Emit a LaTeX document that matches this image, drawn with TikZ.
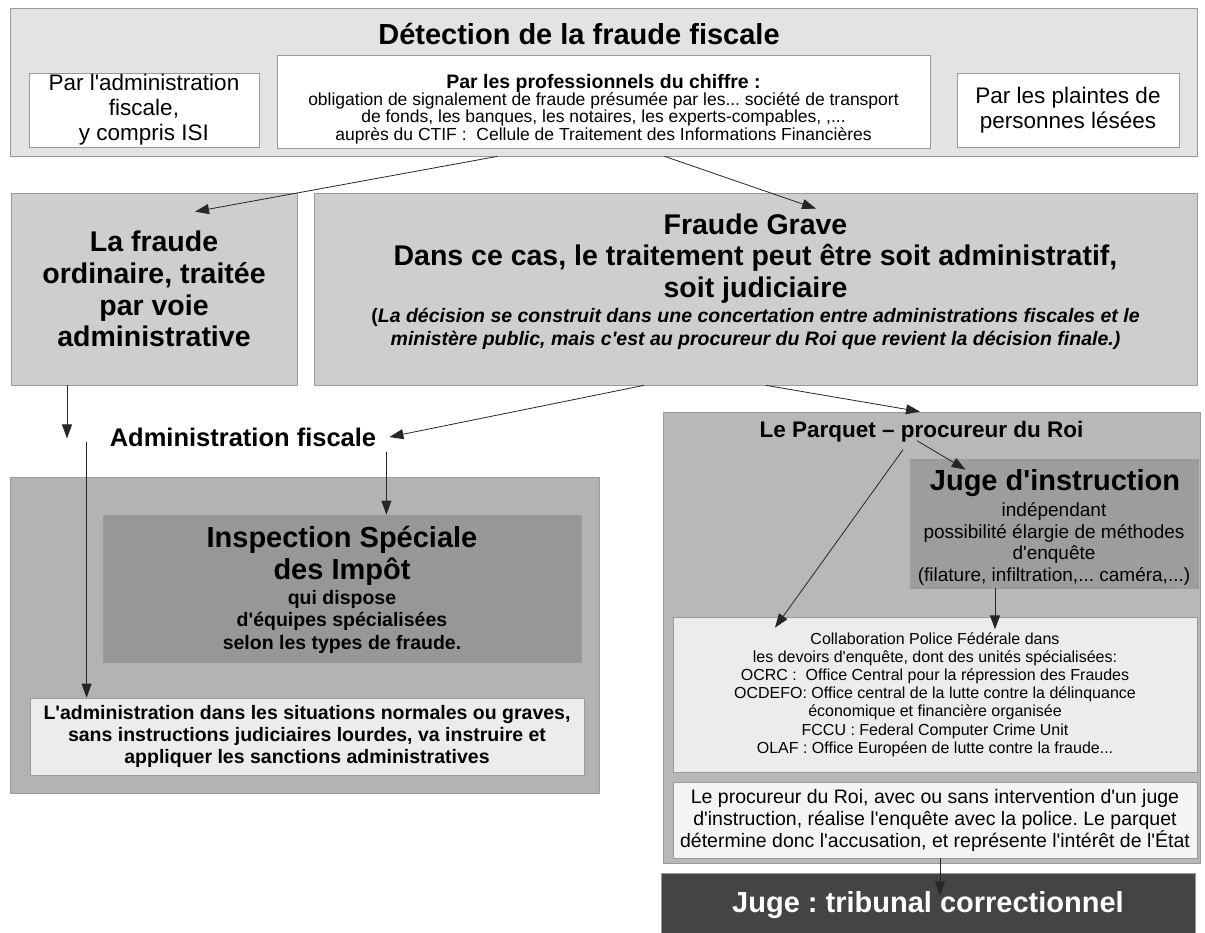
\documentclass[tikz,border=0pt]{standalone}
\usepackage{fontspec}
\setmainfont{Liberation Sans}[Ligatures=TeXOff]
\usetikzlibrary{arrows.meta,calc,positioning}
\frenchspacing

\definecolor{fondHaut}{HTML}{E3E3E3}
\definecolor{fondCas}{HTML}{CECECE}
\definecolor{fondAdmin}{HTML}{B3B3B3}
\definecolor{fondParquet}{HTML}{B8B8B8}
\definecolor{fondIsi}{HTML}{979797}
\definecolor{fondJuge}{HTML}{9D9D9D}
\definecolor{fondClair}{HTML}{ECECEC}
\definecolor{fondTrib}{HTML}{444444}
\definecolor{bord}{HTML}{9A9A9A}

\newcommand{\taille}[2]{\fontsize{#1}{#2}\selectfont}

\tikzset{
  boite/.style={draw=bord, line width=0.7pt, inner sep=0pt, align=center},
  texte/.style={inner sep=0pt, align=center},
  fleche/.style={-{Triangle[length=14pt,width=10pt]}, line width=0.8pt, black!85},
}

\begin{document}
\begin{tikzpicture}[x=1pt,y=-1pt]
  \useasboundingbox (0,0) rectangle (1205,933);

  % Detection
  \node[boite, fill=fondHaut, minimum width=1187pt, minimum height=148pt] (haut) at (603.5,82) {};
  \node[texte, font=\taille{29}{34}\bfseries] (titre) at (579,34) {Détection de la fraude fiscale};
  \node[boite, fill=white, minimum width=230pt, minimum height=74pt, font=\taille{22.5}{25}] (parAdmin) at (144,110) {Par l'administration\\fiscale,\\y compris ISI};
  \node[boite, fill=white, minimum width=653pt, minimum height=93pt] (parPro) at (603.5,101.5) {};
  \node[texte, font=\taille{17.5}{17.4}] (parProTexte) at (603.5,109) {{\bfseries\taille{19.5}{17.4}Par les professionnels du chiffre :}\\obligation de signalement de fraude présumée par les... société de transport\\de fonds, les banques, les notaires, les experts-compables, ,...\\auprès du CTIF :\ \ Cellule de Traitement des Informations Financières};
  \node[boite, fill=white, minimum width=222pt, minimum height=74pt, font=\taille{22.5}{25}] (parPlaintes) at (1068,110) {Par les plaintes de\\personnes lésées};

  % Deux cas
  \node[boite, fill=fondCas, minimum width=286pt, minimum height=192pt, font=\taille{28.5}{31.7}\bfseries] (ordinaire) at (154,289) {La fraude\\ordinaire, traitée\\par voie\\administrative};
  \node[boite, fill=fondCas, minimum width=883pt, minimum height=192pt] (grave) at (755.5,289) {};
  \node[texte, font=\taille{28.5}{31.5}\bfseries] (graveTitre) at (755.5,258.5) {Fraude Grave\\Dans ce cas, le traitement peut être soit administratif,\\soit judiciaire};
  \node[texte, font=\taille{19.5}{23}\bfseries\itshape] (graveNote) at (755.5,328.5) {{\upshape(}La décision se construit dans une concertation entre administrations fiscales et le\\ministère public, mais c'est au procureur du Roi que revient la décision finale.)};

  % Voie administrative
  \node[texte, font=\taille{25.5}{28}\bfseries] (adminFiscale) at (243,437) {Administration fiscale};
  \node[boite, fill=fondAdmin, minimum width=589pt, minimum height=316pt] (admin) at (304.5,635) {};
  \node[boite, fill=fondIsi, minimum width=478pt, minimum height=147pt] (isi) at (342,588.5) {};
  \node[texte, font=\taille{29}{32}\bfseries] (isiTitre) at (342,556) {Inspection Spéciale\\des Impôt};
  \node[texte, font=\taille{19.5}{22.5}\bfseries] (isiTexte) at (342,621.5) {qui dispose\\d'équipes spécialisées\\selon les types de fraude.};
  \node[boite, fill=fondClair, minimum width=554pt, minimum height=77pt, font=\taille{19.5}{21.7}\bfseries] (sanctions) at (307,736.5) {L'administration dans les situations normales ou graves,\\sans instructions judiciaires lourdes, va instruire et\\appliquer les sanctions administratives};

  % Voie judiciaire
  \node[boite, fill=fondParquet, minimum width=537pt, minimum height=451pt] (parquet) at (931.5,637.5) {};
  \node[texte, font=\taille{22.5}{25}\bfseries] (parquetTitre) at (921.5,432) {Le Parquet – procureur du Roi};
  \node[boite, fill=fondJuge, minimum width=288pt, minimum height=129pt] (juge) at (1054,523.5) {};
  \node[texte, font=\taille{29}{32}\bfseries] (jugeTitre) at (1055,483) {Juge d'instruction};
  \node[texte, font=\taille{19}{21.7}] (jugeTexte) at (1054,544) {indépendant\\possibilité élargie de méthodes\\d'enquête\\(filature, infiltration,... caméra,...)};
  \node[boite, fill=fondClair, minimum width=524pt, minimum height=155pt, font=\taille{16}{18.2}] (collab) at (935,694.5) {Collaboration Police Fédérale dans\\les devoirs d'enquête, dont des unités spécialisées:\\OCRC :\ \ Office Central pour la répression des Fraudes\\OCDEFO: Office central de la lutte contre la délinquance\\économique et financière organisée\\FCCU : Federal Computer Crime Unit\\OLAF : Office Européen de lutte contre la fraude...};
  \node[boite, fill=fondClair!60!white, minimum width=524pt, minimum height=76pt, font=\taille{19.5}{22}] (procureur) at (935,820) {Le procureur du Roi, avec ou sans intervention d'un juge\\d'instruction, réalise l'enquête avec la police. Le parquet\\détermine donc l'accusation, et représente l'intérêt de l'État};
  \node[boite, fill=fondTrib, text=white, minimum width=534pt, minimum height=64pt, font=\taille{29}{32}\bfseries] (tribunal) at (928,905) {Juge : tribunal correctionnel};

  % Fleches
  \draw[fleche] ($(haut.south)+(-106,0)$) -- ($(ordinaire.north)+(41,19)$);
  \draw[fleche] ($(haut.south)+(61,0)$) -- ($(grave.north)+(60.5,16)$);
  \draw[fleche] ($(ordinaire.south)+(-87,0)$) -- ($(ordinaire.south)+(-87,53)$);
  \draw[fleche] ($(grave.south)+(-111.5,0)$) -- ($(adminFiscale.east)+(13,0)$);
  \draw[fleche] ($(grave.south)+(10.5,0)$) -- ($(parquet.north)+(-11.5,0)$);
  \coordinate (afGauche) at ($(adminFiscale.west)+(-23,5)$);
  \draw[fleche] (afGauche) -- (afGauche |- sanctions.north);
  \coordinate (afDroite) at ($(adminFiscale.east)+(10,15)$);
  \draw[fleche] (afDroite) -- (afDroite |- isi.north);
  \draw[fleche] ($(parquetTitre.south)+(-4.5,-2)$) -- ($(juge.north west)+(56,11)$);
  \draw[fleche] ($(parquetTitre.south)+(-18.5,7)$) -- ($(collab.north)+(-160,11)$);
  \coordinate (jugeBas) at ($(juge.south)+(-59,0)$);
  \draw[fleche] (jugeBas) -- ($(jugeBas)+(0,41)$);
  \coordinate (procBas) at ($(procureur.south)+(5,0)$);
  \draw[fleche] (procBas) -- ($(procBas)+(0,37)$);
\end{tikzpicture}
\end{document}
